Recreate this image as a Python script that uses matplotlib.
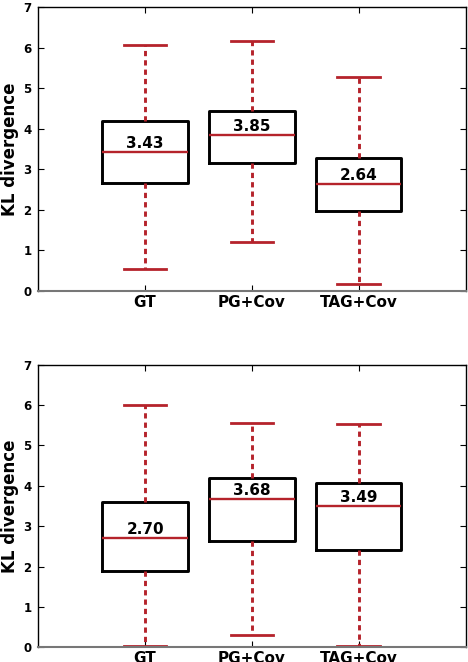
import matplotlib
matplotlib.use("Agg")
import matplotlib.pyplot as plt

categories = ["GT", "PG+Cov", "TAG+Cov"]

# top panel: (whislo, q1, med, q3, whishi)
top_whislo = [0.53, 1.20, 0.17]
top_q1 = [2.67, 3.15, 1.98]
top_med = [3.43, 3.85, 2.64]
top_q3 = [4.20, 4.44, 3.29]
top_whishi = [6.08, 6.18, 5.27]

bot_whislo = [0.03, 0.30, 0.03]
bot_q1 = [1.88, 2.63, 2.41]
bot_med = [2.70, 3.68, 3.49]
bot_q3 = [3.60, 4.19, 4.07]
bot_whishi = [6.01, 5.56, 5.52]

yticks = [0, 1, 2, 3, 4, 5, 6, 7]

RED = "#b5232b"

plt.rcParams["font.family"] = "DejaVu Sans"
plt.rcParams["font.weight"] = "bold"

fig = plt.figure(figsize=(4.68, 6.62), dpi=100)
ax_top = fig.add_axes([0.0818, 0.5609, 0.913, 0.428])
ax_bot = fig.add_axes([0.0818, 0.0222, 0.913, 0.4269])


def draw(ax, lo, q1, med, q3, hi):
    stats = []
    for i, c in enumerate(categories):
        stats.append(dict(label=c, whislo=lo[i], q1=q1[i], med=med[i],
                          q3=q3[i], whishi=hi[i], fliers=[]))
    ax.bxp(stats, positions=[1, 2, 3], widths=0.8, showfliers=False,
           boxprops=dict(color="black", linewidth=2.1),
           medianprops=dict(color=RED, linewidth=1.7),
           whiskerprops=dict(color=RED, linewidth=2.1, linestyle=(0, (1.8, 1.4))),
           capprops=dict(color=RED, linewidth=2.0))
    for i, m in enumerate(med):
        ax.text(i + 1, m + 0.03, f"{m:.2f}", ha="center", va="bottom",
                fontsize=11, fontweight="bold")
    ax.set_xlim(0, 4)
    ax.set_ylim(0, 7)
    ax.set_yticks(yticks)
    ax.set_yticklabels([str(t) for t in yticks], fontsize=8.5, fontweight="bold")
    ax.set_xticks([1, 2, 3])
    ax.set_xticklabels(categories, fontsize=11, fontweight="bold")
    ax.tick_params(direction="in", top=True, right=True, length=4, width=0.8,
                   pad=3)
    ax.tick_params(axis="y", pad=5)
    ax.set_ylabel("KL divergence", fontsize=12, fontweight="bold", labelpad=3)
    for s in ax.spines.values():
        s.set_linewidth(1.0)
    ax.spines["bottom"].set_color("#777777")
    ax.spines["bottom"].set_linewidth(1.5)


draw(ax_top, top_whislo, top_q1, top_med, top_q3, top_whishi)
draw(ax_bot, bot_whislo, bot_q1, bot_med, bot_q3, bot_whishi)

fig.savefig("out.png", dpi=100)
